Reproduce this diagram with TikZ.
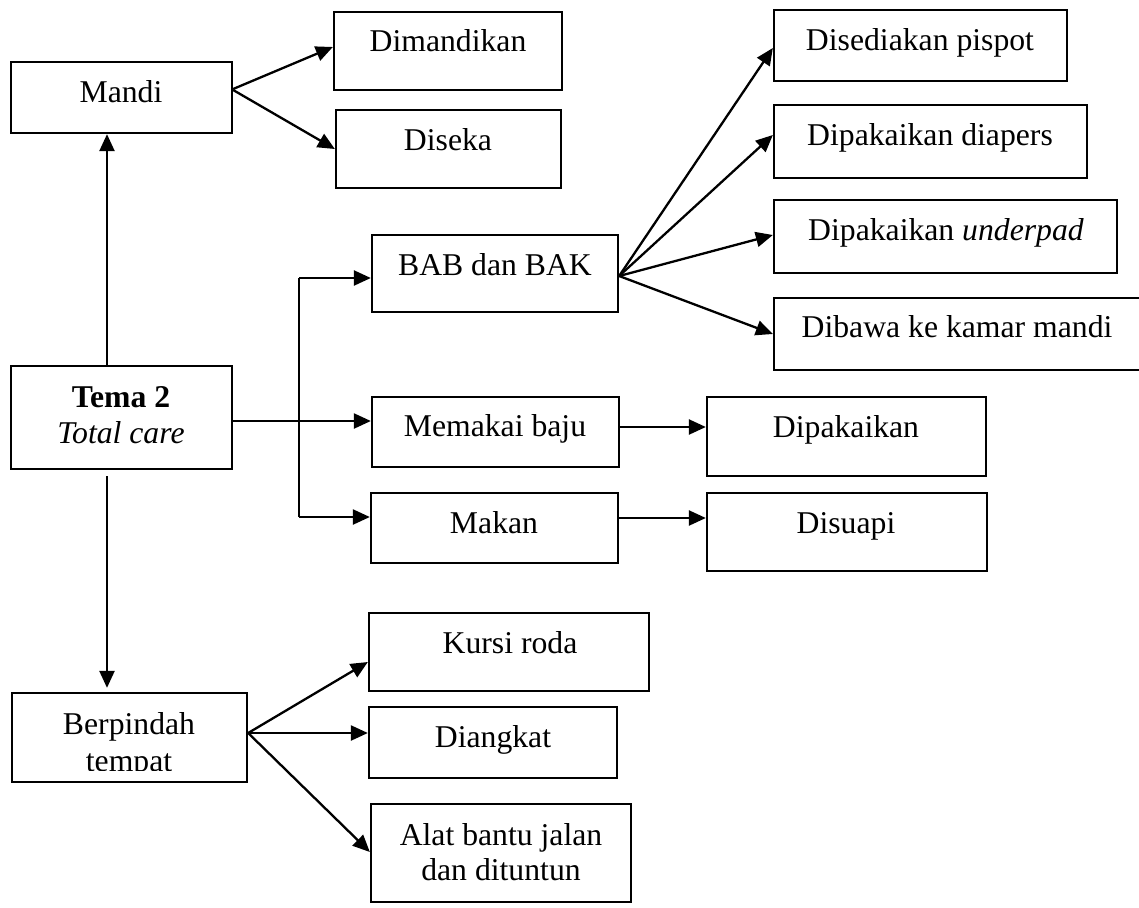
\documentclass[tikz,border=0pt]{standalone}
\usepackage{fontspec}
\setmainfont{Liberation Serif}
\usetikzlibrary{arrows.meta}
\begin{document}
\begin{tikzpicture}[x=1pt,y=-1pt,
  box/.style={draw=black,line width=2.3pt,inner sep=0pt,rectangle},
  lbl/.style={anchor=base,inner sep=0pt,font=\fontsize{31.7}{35}\selectfont},
  arr/.style={line width=2.3pt,-{Triangle[length=17pt,width=15pt]}},
  ln/.style={line width=2pt}]
\useasboundingbox (0,0) rectangle (1139,907);
\fill[white] (0,0) rectangle (1139,907);

% boxes
\node[box,minimum width=221pt,minimum height=71pt]  (mandi)    at (121.5,97.5) {};
\node[box,minimum width=228pt,minimum height=78pt]  (dim)      at (448,51) {};
\node[box,minimum width=225pt,minimum height=78pt]  (diseka)   at (448.5,149) {};
\node[box,minimum width=293pt,minimum height=71pt]  (pispot)   at (920.5,45.5) {};
\node[box,minimum width=313pt,minimum height=73pt]  (diapers)  at (930.5,141.5) {};
\node[box,minimum width=343pt,minimum height=73pt]  (underpad) at (945.5,236.5) {};
\node[box,minimum width=371pt,minimum height=72pt]  (dibawa)   at (959.5,334) {};
\node[box,minimum width=246pt,minimum height=77pt]  (bab)      at (495,273.5) {};
\node[box,minimum width=221pt,minimum height=103pt] (tema)     at (121.5,417.5) {};
\node[box,minimum width=247pt,minimum height=70pt]  (memakai)  at (495.5,432) {};
\node[box,minimum width=247pt,minimum height=70pt]  (makan)    at (494.5,528) {};
\node[box,minimum width=279pt,minimum height=79pt]  (dipakai)  at (846.5,436.5) {};
\node[box,minimum width=280pt,minimum height=78pt]  (disuapi)  at (847,532) {};
\node[box,minimum width=235pt,minimum height=89pt]  (berp)     at (129.5,737.5) {};
\node[box,minimum width=280pt,minimum height=78pt]  (kursi)    at (509,652) {};
\node[box,minimum width=248pt,minimum height=71pt]  (diangkat) at (493,742.5) {};
\node[box,minimum width=260pt,minimum height=98pt]  (alat)     at (501,853) {};

% labels
\node[lbl] (t-mandi)    at (121,102) {Mandi};
\node[lbl] (t-dim)      at (448,52)  {Dimandikan};
\node[lbl] (t-diseka)   at (448,150) {Diseka};
\node[lbl] (t-pispot)   at (920,51)  {Disediakan pispot};
\node[lbl] (t-diapers)  at (930,145) {Dipakaikan diapers};
\node[lbl] (t-underpad) at (946,240) {Dipakaikan \textit{underpad}};
\node[lbl] (t-dibawa)   at (957,337) {Dibawa ke kamar mandi};
\node[lbl] (t-bab)      at (495,275) {BAB dan BAK};
\node[lbl] (t-tema1)    at (121,407) {\textbf{Tema 2}};
\node[lbl] (t-tema2)    at (121,443) {\textit{Total care}};
\node[lbl] (t-memakai)  at (495,436) {Memakai baju};
\node[lbl] (t-makan)    at (494,533) {Makan};
\node[lbl] (t-dipakai)  at (846,437) {Dipakaikan};
\node[lbl] (t-disuapi)  at (846,533) {Disuapi};
\node[lbl] (t-berp1)    at (129,734) {Berpindah};
% the second line is cut off by the box's inner margin
\begin{scope}
  \clip (14,695) rectangle (245,770);
  \node[lbl] (t-berp2)  at (129,771) {tempat};
\end{scope}
\node[lbl] (t-kursi)    at (510,653) {Kursi roda};
\node[lbl] (t-diangkat) at (493,747) {Diangkat};
\node[lbl] (t-alat1)    at (501,845) {Alat bantu jalan};
\node[lbl] (t-alat2)    at (501,880) {dan dituntun};

% connectors
\draw[arr] (mandi.east |- 0,89) -- (dim.west |- 0,47);
\draw[arr] (mandi.east |- 0,90) -- (diseka.west |- 0,149);
\draw[arr] (tema.north -| 107,0) -- (mandi.south -| 107,0);
\draw[arr,shorten <=6pt,shorten >=4pt] (tema.south -| 107,0) -- (berp.north -| 107,0);
\draw[arr] (tema.east |- 0,421) -- (memakai.west |- 0,421);

\coordinate (jt) at (299,278);
\coordinate (jb) at (299,517);
\draw[ln] (jt) -- (jb);
\draw[arr] (jt) -- (bab.west |- jt);
\draw[arr] (jb) -- (makan.west |- jb);

\draw[arr] (bab.east |- 0,276) -- (pispot.west |- 0,48);
\draw[arr] (bab.east |- 0,276) -- (diapers.west |- 0,135);
\draw[arr] (bab.east |- 0,276) -- (underpad.west |- 0,235);
\draw[arr] (bab.east |- 0,276) -- (dibawa.west |- 0,334);

\draw[arr] (memakai.east |- 0,427) -- (dipakai.west |- 0,427);
\draw[arr] (makan.east |- 0,518) -- (disuapi.west |- 0,518);

\draw[arr] (berp.east |- 0,733) -- (kursi.west |- 0,662);
\draw[arr] (berp.east |- 0,733) -- (diangkat.west |- 0,733);
\draw[arr] (berp.east |- 0,733) -- (alat.west |- 0,852);
\end{tikzpicture}
\end{document}
